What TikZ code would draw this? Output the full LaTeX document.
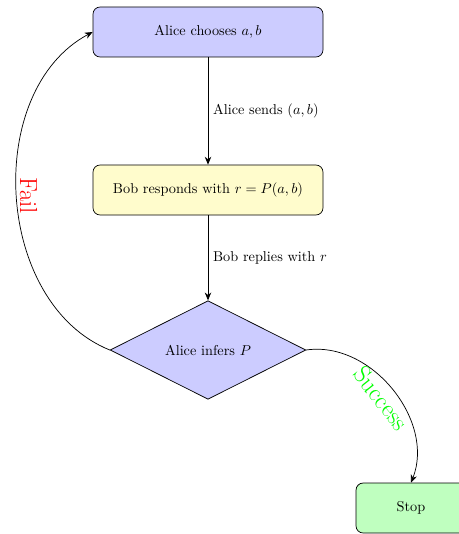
\documentclass[tikz,border=0pt]{standalone}
\usetikzlibrary{shapes.geometric,arrows.meta}
\begin{document}
\begin{tikzpicture}[x=0.7pt,y=0.7pt,
  box/.style={draw, rounded corners=5pt, minimum width=161pt, minimum height=35pt, line width=0.5pt, align=center},
  decision/.style={draw, diamond, aspect=2, inner sep=0pt, minimum width=137pt, minimum height=69pt, line width=0.5pt, fill=blue!20},
  flow/.style={-{Stealth[length=5.5pt,width=4.5pt]}, line width=0.5pt},
  bigred/.style={text=red, font=\LARGE},
  biggreen/.style={text=green, font=\LARGE}]
\useasboundingbox (0,0) rectangle (458,-534);
\node[box, fill=blue!20] (choose) at (208,-32) {Alice chooses $a,b$};
\node[box, fill=yellow!20] (respond) at (208,-190) {Bob responds with $r=P(a,b)$};
\node[decision] (infer) at (208,-350) {Alice infers $P$};
\node[box, fill=green!25, minimum width=77pt] (stop) at (411,-508) {Stop};
\draw[flow] (choose) -- node[right] {Alice sends $(a,b)$} (respond);
\draw[flow] (respond) -- node[right] {Bob replies with $r$} (infer);
\draw[flow] (infer.west) to[bend left=65] node[pos=0.5, rotate=-90, anchor=south, inner sep=2pt, bigred] {Fail} (choose.west);
\draw[flow] (infer.east) to[bend left=60] node[midway, sloped, below, biggreen] {Success} (stop.north);
\end{tikzpicture}
\end{document}
